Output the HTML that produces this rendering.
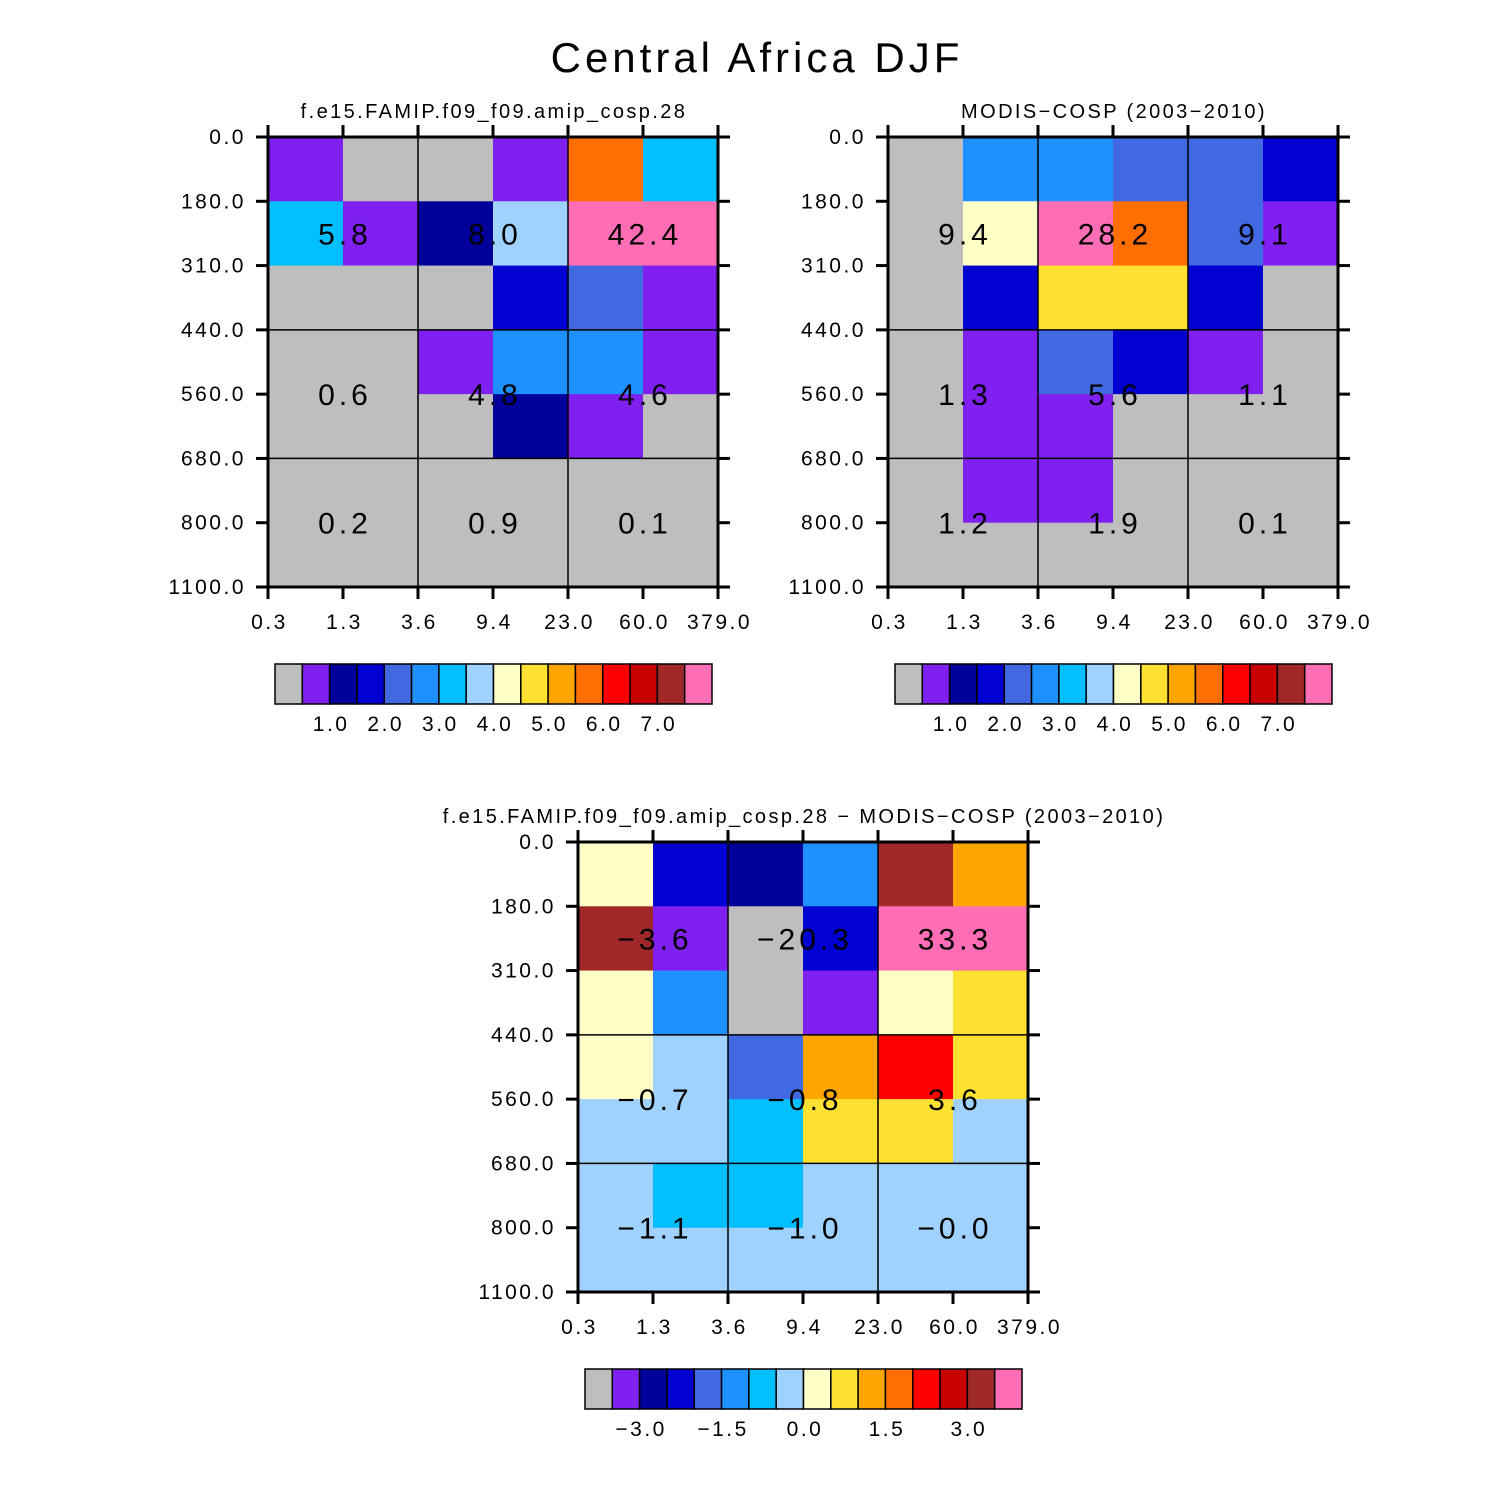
<!DOCTYPE html>
<html><head><meta charset="utf-8"><style>
html,body{margin:0;padding:0;background:#fff}
svg{display:block}
text{font-family:"Liberation Sans","DejaVu Sans",sans-serif;fill:#000}
</style></head><body>
<svg id="fig" width="1510" height="1510" viewBox="0 0 1510 1510" xmlns="http://www.w3.org/2000/svg">
<text x="757" y="72" font-size="42" text-anchor="middle" letter-spacing="4">Central Africa DJF</text>
</svg>
<script>
const palette=["#BEBEBE","#8020F0","#00009A","#0000D0","#4169E1","#1E90FF","#00BFFF","#A0D2FF","#FFFFC8","#FFE132","#FFA500","#FF6E00","#FF0000","#C80000","#A02828","#FF6EB4"];
const xTicks=["0.3","1.3","3.6","9.4","23.0","60.0","379.0"];
const yTicks=["0.0","180.0","310.0","440.0","560.0","680.0","800.0","1100.0"];
const modelCells=[
[1,0,0,1,11,6],
[6,1,2,7,15,15],
[0,0,0,3,4,1],
[0,0,1,5,5,1],
[0,0,0,2,1,0],
[0,0,0,0,0,0],
[0,0,0,0,0,0]];
const obsCells=[
[0,5,5,4,4,3],
[0,8,15,11,4,1],
[0,3,9,9,3,0],
[0,1,4,3,1,0],
[0,1,1,0,0,0],
[0,1,1,0,0,0],
[0,0,0,0,0,0]];
const diffCells=[
[8,3,2,5,14,10],
[14,1,0,3,15,15],
[8,5,0,1,8,9],
[8,7,4,10,12,9],
[7,7,6,9,9,7],
[7,6,6,7,7,7],
[7,7,7,7,7,7]];
const modelVals=[["5.8","8.0","42.4"],["0.6","4.8","4.6"],["0.2","0.9","0.1"]];
const obsVals=[["9.4","28.2","9.1"],["1.3","5.6","1.1"],["1.2","1.9","0.1"]];
const diffVals=[["\u22123.6","\u221220.3","33.3"],["\u22120.7","\u22120.8","3.6"],["\u22121.1","\u22121.0","\u22120.0"]];
const absBarLabels=["1.0","2.0","3.0","4.0","5.0","6.0","7.0"];
const absBarPos=[2,4,6,8,10,12,14];
const diffBarLabels=["\u22123.0","\u22121.5","0.0","1.5","3.0"];
const diffBarPos=[2,5,8,11,14];

const NS="http://www.w3.org/2000/svg";
const svg=document.getElementById('fig');
function mk(tag,attrs,parent){const e=document.createElementNS(NS,tag);for(const k in attrs)e.setAttribute(k,attrs[k]);(parent||svg).appendChild(e);return e;}

function panel(key,x0,y0,title,cells,vals,barLabels,barPos){
  const W=450,H=450,nc=6,nr=7;
  const g=mk('g',{});
  
  
  const xs=i=>x0+i*W/nc, ys=j=>y0+j*H/nr;
  const t=mk('text',{x:x0+W/2+1,y:y0-19,'font-size':20,'text-anchor':'middle','letter-spacing':2.4},g);
  t.textContent=title;
  
  
  cells.forEach((row,j)=>row.forEach((c,i)=>{
    const r=mk('rect',{x:xs(i),y:ys(j),width:W/nc+0.5,height:H/nr+0.5,fill:palette[c]},g);
    
    
  }));
  [2,4].forEach(i=>mk('line',{x1:xs(i),y1:y0,x2:xs(i),y2:y0+H,stroke:'#000','stroke-width':1.5},g));
  [3,5].forEach(j=>mk('line',{x1:x0,y1:ys(j),x2:x0+W,y2:ys(j),stroke:'#000','stroke-width':1.5},g));
  const rowC=[(ys(0)+ys(3))/2,(ys(3)+ys(5))/2,(ys(5)+ys(7))/2];
  vals.forEach((row,j)=>row.forEach((v,i)=>{
    const tx=mk('text',{x:xs(2*i+1)+2,y:rowC[j]+11,'font-size':30,'text-anchor':'middle','letter-spacing':4},g);
    tx.textContent=v;
    
    
  }));
  mk('rect',{x:x0,y:y0,width:W,height:H,fill:'none',stroke:'#000','stroke-width':3},g);
  xTicks.forEach((l,i)=>{
    const x=xs(i);
    mk('line',{x1:x,y1:y0,x2:x,y2:y0-12,stroke:'#000','stroke-width':3},g);
    mk('line',{x1:x,y1:y0+H,x2:x,y2:y0+H+12,stroke:'#000','stroke-width':3},g);
    const tx=mk('text',{x:x+1.5,y:y0+H+42,'font-size':21,'text-anchor':'middle','letter-spacing':2.5},g);
    tx.textContent=l;
    
    
  });
  yTicks.forEach((l,j)=>{
    const y=ys(j);
    mk('line',{x1:x0,y1:y,x2:x0-12,y2:y,stroke:'#000','stroke-width':3},g);
    mk('line',{x1:x0+W,y1:y,x2:x0+W+12,y2:y,stroke:'#000','stroke-width':3},g);
    const tx=mk('text',{x:x0-22,y:y+7,'font-size':21,'text-anchor':'end','letter-spacing':2.5},g);
    tx.textContent=l;
    
    
  });
  const bx=x0+7,by=y0+H+77,bw=437/16,bh=40;
  const cb=mk('g',{},g);
  
  
  palette.forEach((c,k)=>{
    const r=mk('rect',{x:bx+k*bw,y:by,width:bw,height:bh,fill:c,stroke:'#000','stroke-width':1.5},cb);
    
    
  });
  barLabels.forEach((l,k)=>{
    const tx=mk('text',{x:bx+barPos[k]*bw+1.5,y:by+bh+27,'font-size':21,'text-anchor':'middle','letter-spacing':2.5},cb);
    tx.textContent=l;
    
    
  });
}
panel('model',268,137,'f.e15.FAMIP.f09_f09.amip_cosp.28',modelCells,modelVals,absBarLabels,absBarPos);
panel('obs',888,137,'MODIS\u2212COSP (2003\u22122010)',obsCells,obsVals,absBarLabels,absBarPos);
panel('diff',578,842,'f.e15.FAMIP.f09_f09.amip_cosp.28 \u2212 MODIS\u2212COSP (2003\u22122010)',diffCells,diffVals,diffBarLabels,diffBarPos);
</script>
</body></html>
